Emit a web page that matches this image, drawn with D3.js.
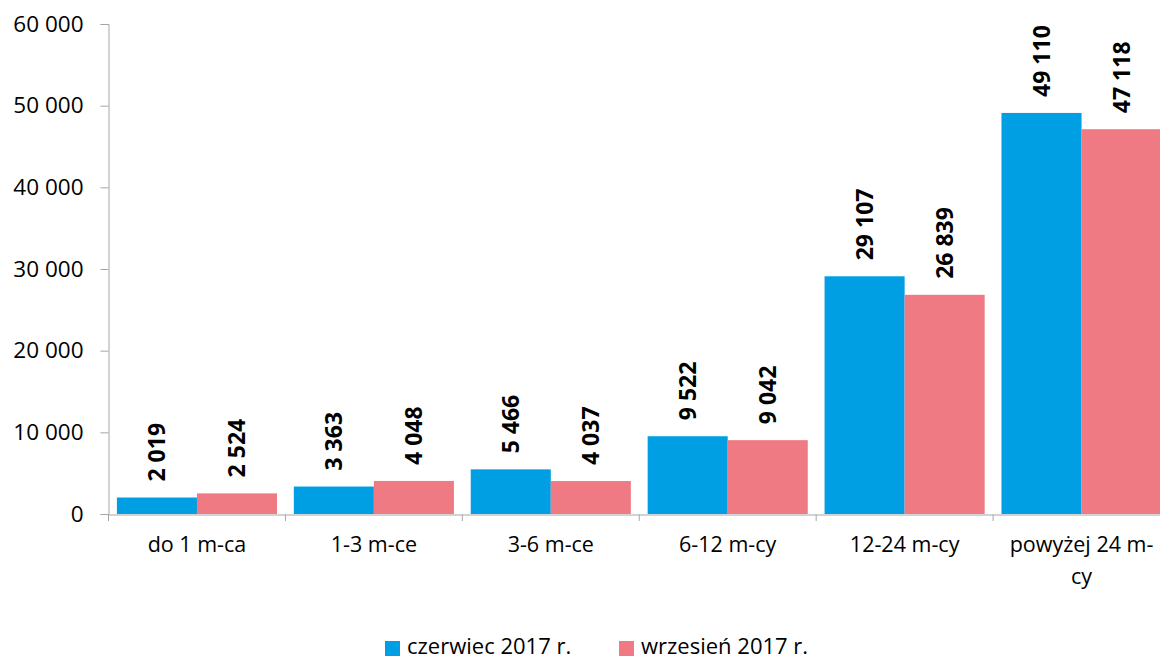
<!DOCTYPE html>
<html>
<head>
<meta charset="utf-8">
<script src="https://cdn.jsdelivr.net/npm/d3@7"></script>
<style>
	body { margin: 0; background: #fff; }
	text { font-family: "Open Sans", sans-serif; fill: #000; }
</style>
</head>
<body>
<div class="chart"></div>
<script>
const categories = ['do 1 m-ca', '1-3 m-ce', '3-6 m-ce', '6-12 m-cy', '12-24 m-cy', 'powyżej 24 m-cy'];
const series = ['czerwiec 2017 r.', 'wrzesień 2017 r.'];
const june = [2019, 3363, 5466, 9522, 29107, 49110];
const september = [2524, 4048, 4037, 9042, 26839, 47118];
const yTicks = [0, 10000, 20000, 30000, 40000, 50000, 60000];
const colors = ['#009FE3', '#F07A84'];

const width = 1160;
const height = 661;
const fmt = d => d3.format(',')(d).replace(/,/g, ' ');

const svg = d3.select('.chart')
	.append('svg')
	.attr('width', width)
	.attr('height', height)

const x = d3.scaleBand()
	.domain(categories)
	.range([108.5, 1170])
	.paddingInner(0)
	.paddingOuter(0);

const inner = d3.scaleBand()
	.domain(series)
	.range([0, x.bandwidth()])
	.paddingOuter(0.105)
	.paddingInner(0);

const y = d3.scaleLinear()
	.domain([0, 60000])
	.range([514, 24]);

const rows = categories.map((c, i) => ({cat: c, values: [june[i], september[i]]}));

// bars
const groups = svg.selectAll('g.cat')
	.data(rows)
	.enter()
	.append('g')
	.attr('class', 'cat')
	.attr('transform', d => `translate(${x(d.cat)},0)`);

groups.selectAll('rect')
	.data(d => d.values.map((v, j) => ({s: series[j], v: v, j: j})))
	.enter()
	.append('rect')
	.attr('x', d => inner(d.s))
	.attr('y', d => y(d.v))
	.attr('width', inner.bandwidth())
	.attr('height', d => y(0) - y(d.v))
	.style('fill', d => colors[d.j]);

groups.selectAll('text.val')
	.data(d => d.values.map((v, j) => ({s: series[j], v: v})))
	.enter()
	.append('text')
	.attr('class', 'val')
	.attr('transform', d => `translate(${inner(d.s) + inner.bandwidth() / 2},${y(d.v) - 16}) rotate(-90)`)
	.attr('dy', '0.35em')
	.style('text-anchor', 'start')
	.style('font-weight', 'bold')
	.style('font-size', '23px')
	.text(d => fmt(d.v));

// y axis
const yAxis = svg.append('g')
	.attr('transform', 'translate(108.5,0)')
	.call(d3.axisLeft(y).tickValues(yTicks).tickSize(8).tickPadding(17).tickFormat(fmt));
yAxis.select('.domain').attr('stroke', '#A6A6A6');
yAxis.selectAll('.tick line').attr('stroke', '#A6A6A6');
yAxis.selectAll('.tick text').style('font-size', '22.5px').attr('fill', '#000');

// x axis
const xAxis = svg.append('g')
	.attr('transform', 'translate(0,514.5)')
	.call(d3.axisBottom(x).tickSize(0).tickPadding(22));
xAxis.select('.domain').attr('stroke', '#A6A6A6');
xAxis.selectAll('.tick text')
	.style('font-size', '21.5px')
	.attr('fill', '#000')
	.each(function (d) {
		if (d === 'powyżej 24 m-cy') {
			const t = d3.select(this);
			t.text(null);
			t.append('tspan').attr('x', 0).text('powyżej 24 m-');
			t.append('tspan').attr('x', 0).attr('dy', '1.5em').text('cy');
		}
	});
svg.append('g')
	.selectAll('line')
	.data(categories.map(c => x(c)).concat([x.range()[1]]))
	.enter()
	.append('line')
	.attr('x1', d => d)
	.attr('x2', d => d)
	.attr('y1', 514.5)
	.attr('y2', 521)
	.attr('stroke', '#A6A6A6');

// legend
const legend = svg.append('g')
	.attr('transform', 'translate(385,641)');
const items = legend.selectAll('g')
	.data(series)
	.enter()
	.append('g')
	.attr('transform', (d, i) => `translate(${i * 234},0)`);
items.append('rect')
	.attr('width', 15)
	.attr('height', 15)
	.style('fill', (d, i) => colors[i]);
items.append('text')
	.attr('x', 22)
	.attr('y', 5.5)
	.attr('dy', '0.35em')
	.style('font-size', '22px')
	.text(d => d);
</script>
</body>
</html>
